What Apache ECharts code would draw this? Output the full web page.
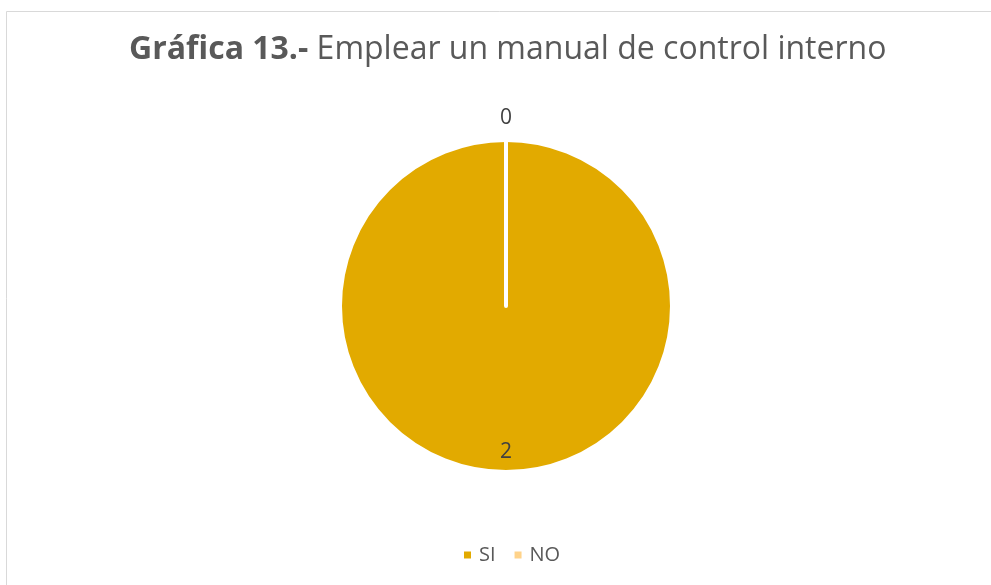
<!DOCTYPE html>
<html>
<head>
<meta charset="utf-8">
<script src="https://cdn.jsdelivr.net/npm/echarts@6/dist/echarts.min.js"></script>
<style>
html,body{margin:0;padding:0;background:#fff;}
#main{width:991px;height:585px;}
</style>
</head>
<body>
<div id="main"></div>
<script>
const categories = ['SI', 'NO'];
const values = [2, 0];
const colors = ['#E2AA00', '#FFD38A'];
const titleBold = 'Gráfica 13.-';
const titleRest = ' Emplear un manual de control interno';

const chart = echarts.init(document.getElementById('main'), null, {renderer: 'canvas'});
const FONT = 'Open Sans';
const data = categories.map((c, i) => {
  const item = {name: c, value: values[i], itemStyle: {color: colors[i]}};
  if (i === 0) {
    item.label = {position: 'inside', formatter: '\n\n\n\n\n\n{c}', lineHeight: 20};
  } else {
    item.label = {position: 'outside'};
  }
  return item;
});
chart.setOption({
  backgroundColor: '#fff',
  animation: false,
  graphic: [{
    type: 'rect',
    shape: {x: 6.5, y: 11.5, width: 1100, height: 700},
    style: {fill: 'none', stroke: '#D9D9D9', lineWidth: 1},
    silent: true, z: -1
  }],
  title: {
    text: '{b|' + titleBold + '}{n|' + titleRest + '}',
    left: 124,
    top: 29,
    textStyle: {
      rich: {
        b: {fontFamily: FONT, fontSize: 32, fontWeight: 'bold', color: '#595959'},
        n: {fontFamily: FONT, fontSize: 32, fontWeight: 'normal', color: '#595959'}
      }
    }
  },
  legend: {
    bottom: 15,
    left: 457,
    itemWidth: 9,
    itemHeight: 9,
    itemGap: 17,
    icon: 'rect',
    textStyle: {fontFamily: FONT, fontSize: 20, color: '#595959', padding: [0, 0, 0, 2]},
    data: categories
  },
  series: [{
    type: 'pie',
    center: [506, 306],
    radius: [0, 166],
    startAngle: 90,
    clockwise: true,
    minAngle: 0,
    avoidLabelOverlap: false,
    itemStyle: {borderColor: '#fff', borderWidth: 4},
    label: {show: true, formatter: '{c}', fontFamily: FONT, fontSize: 21, color: '#404040'},
    labelLine: {show: false, length: 22, length2: 0},
    labelLayout: function (params) {
      if (params.dataIndex === 1) {
        return {align: 'center', dx: 5};
      }
      return {};
    },
    emphasis: {disabled: true},
    data: data
  }]
});
</script>
</body>
</html>
